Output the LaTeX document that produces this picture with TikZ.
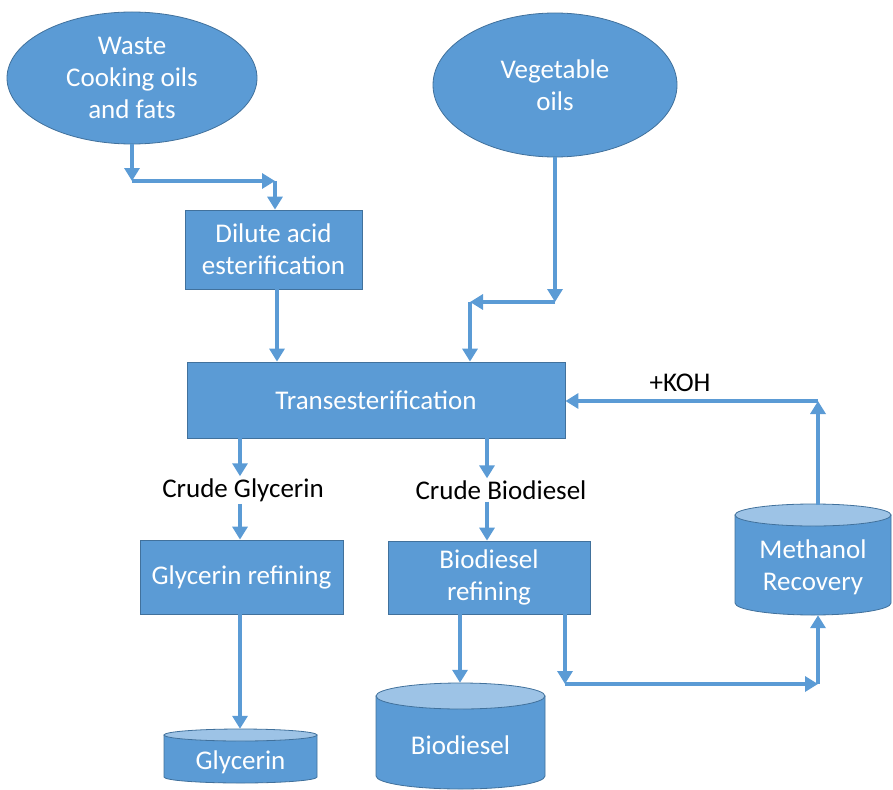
\documentclass[tikz,border=0pt]{standalone}
\usepackage{fontspec}
\setmainfont{Carlito}
\usetikzlibrary{arrows.meta,shapes.geometric,calc}
\definecolor{fillblue}{HTML}{5B9BD5}
\definecolor{edgeblue}{HTML}{41719C}
\definecolor{topblue}{HTML}{9DC3E6}
\tikzset{
  box/.style={draw=edgeblue,line width=0.8pt,fill=fillblue,text=white,align=center,inner sep=0pt,font=\fontsize{27}{32}\selectfont},
  oval/.style={ellipse,draw=edgeblue,line width=0.8pt,fill=fillblue,text=white,align=center,inner sep=0pt,font=\fontsize{27}{32}\selectfont},
  lbl/.style={text=black,font=\fontsize{27}{32}\selectfont,inner sep=2pt},
  arr/.style={draw=fillblue,line width=4pt,-{Triangle[width=15pt,length=13pt]}},
  cylbody/.style={draw=edgeblue,line width=0.8pt,fill=fillblue},
  cyltop/.style={draw=edgeblue,line width=0.8pt,fill=topblue},
  cylarea/.style={inner sep=0pt},
  cyltext/.style={text=white,align=center,font=\fontsize{27}{32}\selectfont,inner sep=0pt}
}
\begin{document}
\begin{tikzpicture}[x=1pt,y=-1pt]
\useasboundingbox (0,0) rectangle (893,789);
% ellipses
\node[oval,minimum width=250pt,minimum height=132pt] (waste) at (132,78) {Waste\\Cooking oils\\and fats};
\node[oval,minimum width=244pt,minimum height=144pt] (veg) at (555,85) {Vegetable\\oils};
% boxes
\node[box,minimum width=177pt,minimum height=79pt] (dil) at (273.5,249.5) {Dilute acid\\esterification};
\node[box,minimum width=378pt,minimum height=76pt] (trans) at (376,400) {Transesterification};
\node[box,minimum width=203pt,minimum height=74pt] (gref) at (241.5,577) {Glycerin refining};
\node[box,minimum width=202pt,minimum height=73pt] (bref) at (489,577.5) {Biodiesel\\refining};
% labels
\node[lbl] (cg) at (243,490) {Crude Glycerin};
\node[lbl] (cb) at (501,490) {Crude Biodiesel};
\node[lbl] (koh) at (680,383) {+KOH};
% cylinders
\path[cylbody] (735,515) -- (735,603) arc[start angle=180,end angle=0,x radius=78,y radius=12] -- (891,515) -- cycle;
\path[cyltop] (813,515) ellipse[x radius=78,y radius=11];
\node[cylarea,minimum width=156pt,minimum height=110pt] (meth) at (813,560) {};
\node[cyltext] (methtxt) at (813,567) {Methanol\\Recovery};
\path[cylbody] (376,696) -- (376,776) arc[start angle=180,end angle=0,x radius=84.5,y radius=13] -- (545,696) -- cycle;
\path[cyltop] (460.5,696) ellipse[x radius=84.5,y radius=13];
\node[cylarea,minimum width=169pt,minimum height=106pt] (bio) at (460.5,736) {};
\node[cyltext] (biotxt) at (460.5,745) {Biodiesel};
\path[cylbody] (164,735) -- (164,777) arc[start angle=180,end angle=0,x radius=76.5,y radius=6] -- (317,735) -- cycle;
\path[cyltop] (240.5,735) ellipse[x radius=76.5,y radius=6];
\node[cylarea,minimum width=153pt,minimum height=54pt] (gly) at (240.5,756) {};
\node[cyltext] (glytxt) at (240.5,762) {Glycerin};
% coordinates
\coordinate (w1) at (132,181);
\coordinate (w2) at (275,181);
\coordinate (v1) at (555,302);
\coordinate (v2) at (470,302);
\coordinate (dx) at (277,0);
\coordinate (gx) at (240,0);
\coordinate (bx) at (487,0);
\coordinate (bdx) at (460,0);
\coordinate (r1) at (565,614);
\coordinate (r2) at (565,684);
\coordinate (r3) at (818,684);
\coordinate (k1) at (818,401);
% arrows
\draw[arr] (waste.south) -- (w1);
\draw[arr] (w1) -- (w2);
\draw[arr] (w2) -- (w2 |- dil.north);
\draw[arr] (dil.south -| dx) -- (trans.north -| dx);
\draw[arr] (veg.south) -- (v1);
\draw[arr] (v1) -- (v2);
\draw[arr] (v2) -- (v2 |- trans.north);
\draw[arr] (trans.south -| gx) -- (cg.north -| gx);
\draw[arr] (cg.south -| gx) -- (gref.north -| gx);
\draw[arr] (trans.south -| bx) -- (cb.north -| bx);
\draw[arr] (cb.south -| bx) -- (bref.north -| bx);
\draw[arr] (gref.south -| gx) -- (gly.north -| gx);
\draw[arr] (bref.south -| bdx) -- (bio.north -| bdx);
\draw[arr] (r1) -- (r2);
\draw[arr] (r2) -- (r3);
\draw[arr] (r3) -- (meth.south -| r3);
\draw[arr] (meth.north -| k1) -- (k1);
\draw[arr] (k1) -- (trans.east |- k1);
\end{tikzpicture}
\end{document}
